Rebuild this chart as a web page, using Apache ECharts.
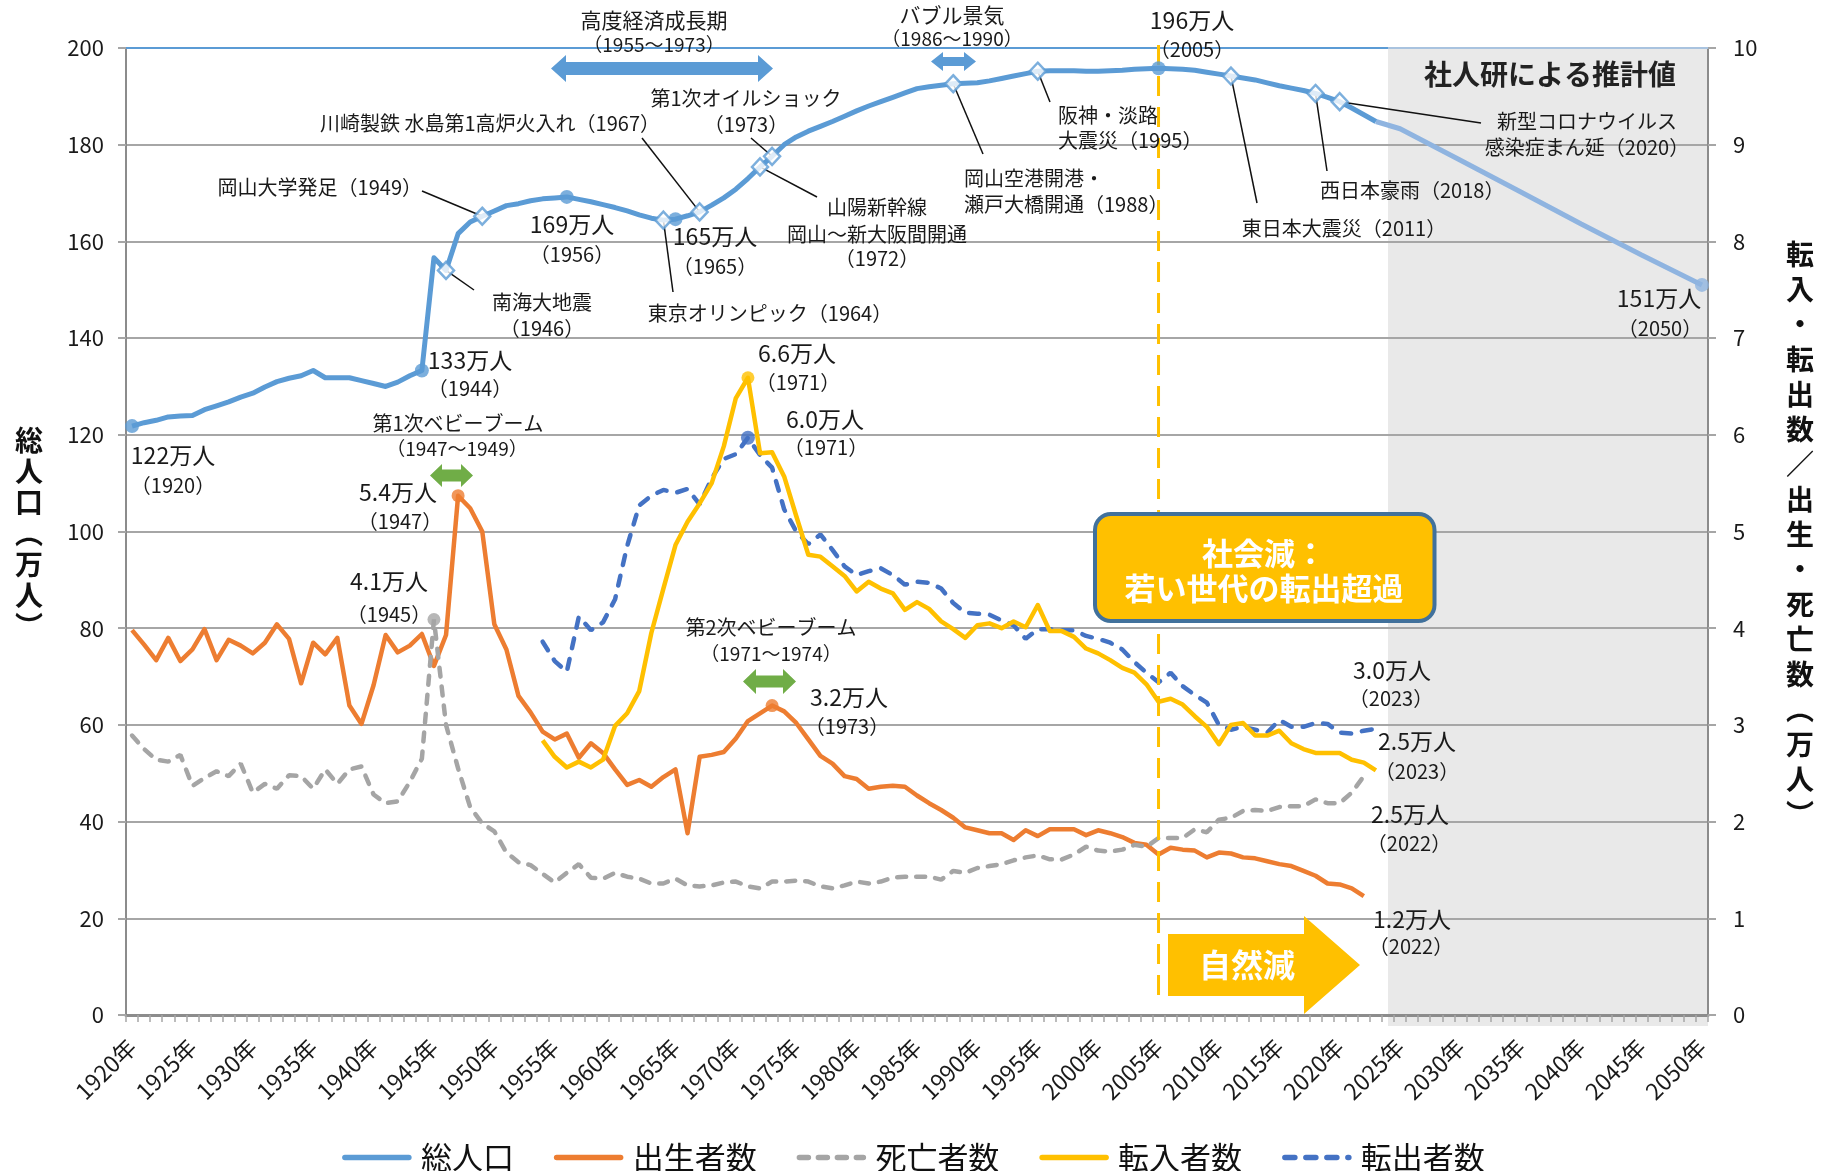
<!DOCTYPE html>
<html><head><meta charset="utf-8">
<script src="https://cdn.jsdelivr.net/npm/echarts@6/dist/echarts.min.js"></script>
<style>html,body{margin:0;padding:0;background:#fff}#c{width:1827px;height:1171px}</style>
</head><body><div id="c"></div>
<script>
const FONT = "'Noto Sans CJK JP','Noto Sans',sans-serif";
const FIRST_YEAR = 1920, LAST_YEAR = 2050;
const categories = [];
for (let y = FIRST_YEAR; y <= LAST_YEAR; y++) categories.push(y + '年');

// 総人口 (万人) 1920-2023
const population = [
 121.8,122.5,123.0,123.7,123.9,124.0,125.2,126.0,126.8,127.8,
 128.6,129.9,131.0,131.7,132.2,133.3,131.8,131.8,131.8,131.2,
 130.6,130.0,130.9,132.2,133.3,156.6,154.0,161.6,164.0,165.2,
 166.3,167.4,167.8,168.4,168.8,169.0,169.2,168.7,168.2,167.6,
 167.0,166.3,165.5,164.8,164.4,164.6,165.3,166.1,167.5,169.0,
 170.8,173.0,175.4,177.6,180.0,181.6,182.8,183.8,184.8,185.9,
 187.0,188.0,188.9,189.8,190.7,191.6,192.0,192.3,192.6,192.7,
 192.8,193.2,193.7,194.2,194.7,195.2,195.3,195.3,195.3,195.2,
 195.2,195.3,195.4,195.6,195.7,195.8,195.7,195.6,195.4,195.0,
 194.6,194.2,193.8,193.4,192.8,192.2,191.7,191.2,190.6,189.8,
 188.9,187.6,186.2,184.8];
// 社人研による推計値
const projYears = [2023, 2025, 2030, 2035, 2040, 2045, 2050];
const projection = [184.8, 183.3, 176.8, 170.2, 163.6, 157.2, 151.0];

// 出生者数 (万人) 1920-2022
const births = [
 3.98,3.83,3.67,3.90,3.66,3.78,3.99,3.67,3.88,3.82,
 3.74,3.85,4.04,3.89,3.43,3.85,3.73,3.90,3.20,3.01,
 3.41,3.93,3.75,3.82,3.94,3.61,3.93,5.37,5.24,5.00,
 4.04,3.78,3.30,3.13,2.93,2.85,2.91,2.66,2.81,2.71,
 2.54,2.38,2.43,2.36,2.46,2.54,1.88,2.67,2.69,2.72,
 2.86,3.04,3.12,3.20,3.14,3.02,2.85,2.68,2.60,2.47,
 2.44,2.34,2.36,2.37,2.36,2.27,2.19,2.12,2.04,1.94,
 1.91,1.88,1.88,1.81,1.91,1.85,1.92,1.92,1.92,1.86,
 1.91,1.88,1.84,1.78,1.76,1.66,1.73,1.71,1.70,1.63,
 1.68,1.67,1.63,1.62,1.59,1.56,1.54,1.49,1.44,1.36,
 1.35,1.31,1.23];
// 死亡者数 (万人) 1920-2022
const deaths = [
 2.89,2.75,2.64,2.62,2.69,2.37,2.45,2.52,2.47,2.60,
 2.30,2.39,2.34,2.48,2.47,2.34,2.54,2.39,2.54,2.57,
 2.28,2.19,2.21,2.41,2.65,4.09,3.00,2.55,2.15,1.98,
 1.90,1.68,1.58,1.55,1.46,1.37,1.47,1.56,1.42,1.41,
 1.47,1.43,1.41,1.36,1.36,1.41,1.34,1.33,1.34,1.37,
 1.38,1.33,1.31,1.38,1.38,1.39,1.38,1.33,1.31,1.34,
 1.38,1.36,1.38,1.42,1.43,1.43,1.43,1.40,1.49,1.47,
 1.52,1.54,1.56,1.60,1.63,1.65,1.61,1.61,1.66,1.74,
 1.70,1.69,1.71,1.76,1.74,1.83,1.83,1.83,1.92,1.89,
 2.02,2.04,2.11,2.12,2.11,2.15,2.16,2.16,2.23,2.19,
 2.19,2.30,2.47];
// 転入者数 / 転出者数 (万人) 1954-2023
const MOVE_START = 1954;
const moveIn = [
 2.84,2.67,2.56,2.62,2.56,2.64,2.99,3.12,3.35,3.95,
 4.41,4.86,5.10,5.29,5.50,5.88,6.38,6.59,5.81,5.82,
 5.57,5.16,4.76,4.74,4.64,4.54,4.38,4.48,4.41,4.36,
 4.19,4.27,4.20,4.07,3.99,3.90,4.03,4.05,4.00,4.07,
 4.01,4.24,3.97,3.97,3.91,3.79,3.74,3.67,3.59,3.54,
 3.42,3.24,3.27,3.21,3.09,2.98,2.80,3.00,3.02,2.89,
 2.89,2.94,2.81,2.75,2.71,2.71,2.71,2.64,2.61,2.53];
const moveOut = [
 3.86,3.66,3.55,4.12,3.98,4.06,4.30,4.85,5.27,5.37,
 5.43,5.40,5.44,5.28,5.55,5.75,5.80,5.97,5.79,5.66,
 5.23,5.00,4.87,4.97,4.81,4.64,4.55,4.59,4.62,4.55,
 4.45,4.48,4.47,4.41,4.26,4.16,4.15,4.14,4.08,4.03,
 3.89,3.99,3.99,3.98,3.98,3.92,3.89,3.85,3.78,3.65,
 3.54,3.44,3.54,3.40,3.31,3.23,3.00,2.95,2.98,2.95,
 2.92,3.05,2.98,2.98,3.02,3.01,2.92,2.91,2.94,2.96];

const popCircleYears = [1920, 1944, 1956, 1965, 2005];
const popDiamondYears = [1946, 1949, 1964, 1967, 1972, 1973, 1988, 1995, 2011, 2018, 2020];

function place(startYear, arr) {
  const out = categories.map(() => null);
  arr.forEach((v, i) => { out[startYear - FIRST_YEAR + i] = v; });
  return out;
}
function placeAt(yearsArr, arr) {
  const out = categories.map(() => null);
  yearsArr.forEach((y, i) => { out[y - FIRST_YEAR] = arr[i]; });
  return out;
}
const popVal = y => population[y - FIRST_YEAR];
const idx = y => y - FIRST_YEAR;

const chart = echarts.init(document.getElementById('c'), null, {renderer: 'canvas'});
const C_POP = '#5b9bd5', C_PROJ = '#8fb4e0', C_BIRTH = '#ed7d31', C_DEATH = '#a5a5a5', C_IN = '#ffc000', C_OUT = '#4472c4';

const option = {
  animation: false,
  textStyle: {fontFamily: FONT},
  grid: {left: 126, right: 119, top: 48, bottom: 156},
  legend: {
    data: ['総人口', '出生者数', '死亡者数', '転入者数', '転出者数'],
    left: 'center', top: 1137, itemWidth: 64, itemHeight: 16, itemGap: 40,
    textStyle: {fontSize: 31, color: '#111', fontFamily: FONT, padding: [0, 0, 0, 7]},
    lineStyle: {width: 5.5, cap: 'round'},
    itemStyle: {opacity: 0}
  },
  xAxis: {
    type: 'category', data: categories, boundaryGap: true,
    axisLine: {lineStyle: {color: '#8c8c8c', width: 3}},
    axisTick: {show: true, interval: 0, length: 7, lineStyle: {color: '#a6a6a6', width: 1.5}},
    axisLabel: {interval: 4, rotate: 45, fontSize: 23, margin: 28, color: '#1a1a1a', fontFamily: FONT},
    splitLine: {show: false}
  },
  yAxis: [
    {type: 'value', min: 0, max: 200, interval: 20, position: 'left',
     axisLine: {show: true, lineStyle: {color: '#8c8c8c', width: 2}},
     axisTick: {show: true, length: 8, lineStyle: {color: '#a6a6a6', width: 2}},
     axisLabel: {fontSize: 22, margin: 22, color: '#1a1a1a', fontFamily: FONT},
     splitLine: {lineStyle: {color: '#a6a6a6', width: 2}}},
    {type: 'value', min: 0, max: 10, interval: 1, position: 'right',
     axisLine: {show: true, lineStyle: {color: '#8c8c8c', width: 2}},
     axisTick: {show: true, length: 8, lineStyle: {color: '#a6a6a6', width: 2}},
     axisLabel: {fontSize: 22, margin: 25, color: '#1a1a1a', fontFamily: FONT},
     splitLine: {show: false}}
  ],
  series: [
    {name: '推計', type: 'line', yAxisIndex: 0, data: placeAt(projYears, projection), connectNulls: true,
     symbol: 'none', lineStyle: {color: C_PROJ, width: 5}, itemStyle: {color: C_PROJ}, z: 3},
    {name: '総人口', type: 'line', yAxisIndex: 0, data: place(FIRST_YEAR, population),
     symbol: 'none', lineStyle: {color: C_POP, width: 5, join: 'round'}, itemStyle: {color: C_POP}, z: 4},
    {name: '出生者数', type: 'line', yAxisIndex: 1, data: place(FIRST_YEAR, births),
     symbol: 'none', lineStyle: {color: C_BIRTH, width: 4.5, join: 'round'}, itemStyle: {color: C_BIRTH}, z: 3},
    {name: '死亡者数', type: 'line', yAxisIndex: 1, data: place(FIRST_YEAR, deaths),
     symbol: 'none', lineStyle: {color: C_DEATH, width: 4.5, type: [9, 10], cap: 'round'}, itemStyle: {color: C_DEATH}, z: 3},
    {name: '転出者数', type: 'line', yAxisIndex: 1, data: place(MOVE_START, moveOut),
     symbol: 'none', lineStyle: {color: C_OUT, width: 4.5, type: [10, 11], cap: 'round'}, itemStyle: {color: C_OUT}, z: 3},
    {name: '転入者数', type: 'line', yAxisIndex: 1, data: place(MOVE_START, moveIn),
     symbol: 'none', lineStyle: {color: C_IN, width: 4.5, join: 'round'}, itemStyle: {color: C_IN}, z: 3},
    {name: 'pc', type: 'scatter', yAxisIndex: 0, symbol: 'circle', symbolSize: 14, z: 6,
     itemStyle: {color: C_POP}, data: popCircleYears.map(y => [idx(y), popVal(y)])},
    {name: 'pd', type: 'scatter', yAxisIndex: 0, symbol: 'diamond', symbolSize: [16, 17], z: 6,
     itemStyle: {color: '#fff', borderColor: C_POP, borderWidth: 2.5},
     data: popDiamondYears.map(y => [idx(y), popVal(y)])},
    {name: 'pp', type: 'scatter', yAxisIndex: 0, symbol: 'circle', symbolSize: 14, z: 6,
     itemStyle: {color: C_PROJ}, data: [[idx(2050), projection[projection.length - 1]]]},
    {name: 'bm', type: 'scatter', yAxisIndex: 1, symbol: 'circle', symbolSize: 13, z: 6,
     itemStyle: {color: C_BIRTH}, data: [1947, 1973].map(y => [idx(y), births[idx(y)]])},
    {name: 'dm', type: 'scatter', yAxisIndex: 1, symbol: 'circle', symbolSize: 13, z: 6,
     itemStyle: {color: C_DEATH}, data: [[idx(1945), deaths[idx(1945)]]]},
    {name: 'im', type: 'scatter', yAxisIndex: 1, symbol: 'circle', symbolSize: 13, z: 6,
     itemStyle: {color: C_IN}, data: [[idx(1971), moveIn[1971 - MOVE_START]]]},
    {name: 'om', type: 'scatter', yAxisIndex: 1, symbol: 'circle', symbolSize: 14, z: 6,
     itemStyle: {color: C_OUT}, data: [[idx(1971), moveOut[1971 - MOVE_START]]]}
  ]
};
chart.setOption(option);

// ---- annotations ----
const x0 = chart.convertToPixel({xAxisIndex: 0}, 0);
const x1 = chart.convertToPixel({xAxisIndex: 0}, categories.length - 1);
const step = (x1 - x0) / (categories.length - 1);
const xOf = y => x0 + (y - FIRST_YEAR) * step;
const yTop = chart.convertToPixel({yAxisIndex: 0}, 200);
const yBot = chart.convertToPixel({yAxisIndex: 0}, 0);
const xRight = x1 + step / 2;
const ptL = (y, v) => chart.convertToPixel({xAxisIndex: 0, yAxisIndex: 0}, [idx(y), v]);

const G = [];
const EV = 20, VAL = 23, YR = 20;
function T(text, x, y, size, opt) {
  opt = opt || {};
  G.push({type: 'text', x: x, y: y, z: 60,
    style: {text: text, font: (opt.bold ? 'bold ' : '') + size + 'px ' + FONT, fill: opt.fill || '#1a1a1a',
      textAlign: opt.align || 'center', textVerticalAlign: 'middle', lineHeight: opt.lh}});
}
function L(xa, ya, xb, yb) {
  G.push({type: 'line', z: 1, shape: {x1: xa, y1: ya, x2: xb, y2: yb}, style: {stroke: '#111', lineWidth: 1.5}});
}
function leader(xa, ya, year) { const p = ptL(year, popVal(year)); L(xa, ya, p[0], p[1]); }
function dblArrow(xa, xb, yc, hl, hh, bh, color) {
  G.push({type: 'polygon', z: 20, shape: {points: [
    [xa, yc], [xa + hl, yc - hh], [xa + hl, yc - bh], [xb - hl, yc - bh], [xb - hl, yc - hh], [xb, yc],
    [xb - hl, yc + hh], [xb - hl, yc + bh], [xa + hl, yc + bh], [xa + hl, yc + hh]]}, style: {fill: color}});
}

// shaded projection area
const xShade = xOf(2024);
G.push({type: 'rect', z: -5, shape: {x: xShade, y: yTop, width: xRight - xShade, height: yBot - yTop + 11}, style: {fill: '#e9e9e9'}});
// top border line
G.push({type: 'line', z: 1, shape: {x1: x0 - step / 2, y1: yTop, x2: xShade, y2: yTop}, style: {stroke: C_POP, lineWidth: 2}});
G.push({type: 'line', z: 1, shape: {x1: xShade, y1: yTop, x2: xRight, y2: yTop}, style: {stroke: '#a9c3df', lineWidth: 2}});
// 2005 dashed line
G.push({type: 'line', z: 5, shape: {x1: xOf(2005), y1: 45, x2: xOf(2005), y2: 1000},
  style: {stroke: C_IN, lineWidth: 3, lineDash: [20, 11]}});

// axis titles
T('総\n人\n口\n︵\n万\n人\n︶', 29, 533, 28, {bold: true, lh: 31, fill: '#111'});
T('転\n入\n・\n転\n出\n数\n／\n出\n生\n・\n死\n亡\n数\n︵\n万\n人\n︶', 1800, 534, 28, {bold: true, lh: 35, fill: '#111'});

// period arrows
T('高度経済成長期', 654, 20, 21); T('（1955〜1973）', 654, 45, 19);
dblArrow(551, 773, 68.5, 15, 13.5, 6.5, C_POP);
T('バブル景気', 952, 15, 21); T('（1986〜1990）', 952, 39, 19);
dblArrow(931, 976, 61.5, 12, 9.5, 4.5, C_POP);
T('196万人', 1192, 20, VAL); T('（2005）', 1192, 49, YR);
T('社人研による推計値', 1550, 74, 28, {bold: true, fill: '#222'});

// events on population line
T('川崎製鉄 水島第1高炉火入れ（1967）', 660, 123, EV, {align: 'right'}); leader(642, 138, 1967);
T('第1次オイルショック', 746, 98, EV); T('（1973）', 746, 124, EV); leader(751, 138, 1973);
T('岡山大学発足（1949）', 422, 187, EV, {align: 'right'}); leader(422, 191, 1949);
T('169万人', 572, 224, VAL); T('（1956）', 572, 254, YR);
T('165万人', 715, 236, VAL); T('（1965）', 715, 266, YR);
T('山陽新幹線', 877, 207, EV); T('岡山〜新大阪間開通', 877, 234, EV); T('（1972）', 877, 258, EV); leader(817, 197, 1972);
T('阪神・淡路', 1058, 115, EV, {align: 'left'}); T('大震災（1995）', 1058, 140, EV, {align: 'left'}); leader(1050, 102, 1995);
T('岡山空港開港・', 964, 178, EV, {align: 'left'}); T('瀬戸大橋開通（1988）', 964, 204, EV, {align: 'left'}); leader(983, 154, 1988);
T('東日本大震災（2011）', 1344, 228, EV); leader(1257, 203, 2011);
T('西日本豪雨（2018）', 1320, 190, EV, {align: 'left'}); leader(1327, 171, 2018);
T('新型コロナウイルス', 1587, 121, EV); T('感染症まん延（2020）', 1587, 147, EV); leader(1481, 123, 2020);
T('151万人', 1659, 298, VAL); T('（2050）', 1660, 328, YR);
T('南海大地震', 542, 302, EV); T('（1946）', 542, 328, EV); leader(474, 290, 1946);
T('東京オリンピック（1964）', 770, 313, EV); leader(673, 292, 1964);
T('133万人', 470, 360, VAL); T('（1944）', 470, 388, YR);
T('122万人', 173, 455, VAL); T('（1920）', 173, 485, YR);

// lower annotations
T('第1次ベビーブーム', 458, 423, EV); T('（1947〜1949）', 457, 449, 19);
dblArrow(430, 473, 475.5, 12, 11.5, 6, '#70ad47');
T('5.4万人', 398, 492, VAL); T('（1947）', 400, 521, YR);
T('4.1万人', 389, 581, VAL); T('（1945）', 389, 614, YR);
T('6.6万人', 797, 353, VAL); T('（1971）', 798, 382, YR);
T('6.0万人', 825, 419, VAL); T('（1971）', 826, 447, YR);
T('第2次ベビーブーム', 771, 627, EV); T('（1971〜1974）', 771, 654, 19);
dblArrow(743, 796, 681.5, 13, 12.5, 6, '#70ad47');
T('3.2万人', 849, 697, VAL); T('（1973）', 847, 726, YR);
T('3.0万人', 1392, 670, VAL); T('（2023）', 1391, 698, YR);
T('2.5万人', 1417, 741, VAL); T('（2023）', 1417, 771, YR);
T('2.5万人', 1410, 814, VAL); T('（2022）', 1409, 843, YR);
T('1.2万人', 1412, 919, VAL); T('（2022）', 1411, 946, YR);

// 社会減 box
G.push({type: 'rect', z: 30, shape: {x: 1095, y: 514, width: 339.5, height: 107, r: 16},
  style: {fill: '#ffc000', stroke: '#41719c', lineWidth: 4}});
T('社会減：', 1264, 553, 31, {bold: true, fill: '#fff'});
T('若い世代の転出超過', 1264, 588, 31, {bold: true, fill: '#fff'});
// 自然減 arrow
G.push({type: 'polygon', z: 30, shape: {points: [[1168, 934], [1304, 934], [1304, 916], [1360, 965], [1304, 1014], [1304, 996], [1168, 996]]},
  style: {fill: '#ffc000'}});
T('自然減', 1247, 965, 32, {bold: true, fill: '#fff'});

chart.setOption({graphic: {elements: G}});
</script></body></html>
